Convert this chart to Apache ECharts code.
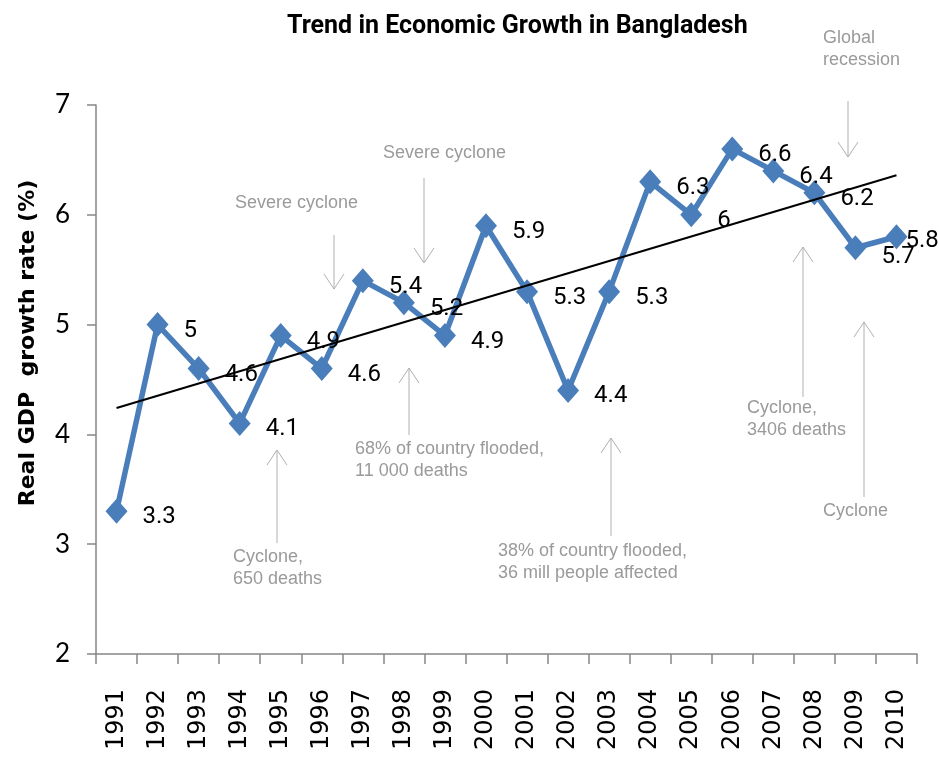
<!DOCTYPE html>
<html>
<head>
<meta charset="utf-8">
<script src="https://cdn.jsdelivr.net/npm/echarts@6/dist/echarts.min.js"></script>
<style>
html,body{margin:0;padding:0;background:#fff;}
#chart{width:939px;height:762px;}
</style>
</head>
<body>
<div id="chart"></div>
<script>
// ---------- data ----------
const years = ['1991','1992','1993','1994','1995','1996','1997','1998','1999','2000',
               '2001','2002','2003','2004','2005','2006','2007','2008','2009','2010'];
const gdpGrowth = [3.3, 5, 4.6, 4.1, 4.9, 4.6, 5.4, 5.2, 4.9, 5.9,
                   5.3, 4.4, 5.3, 6.3, 6, 6.6, 6.4, 6.2, 5.7, 5.8];
const trendStart = 4.24;   // at 1991
const trendEnd = 6.36;     // at 2010
const yTicks = [2, 3, 4, 5, 6, 7];
const titleText = 'Trend in Economic Growth in Bangladesh';
const yAxisTitle = 'Real GDP  growth rate (%)';
const annotationTexts = [
  'Severe cyclone',
  'Severe cyclone',
  '68% of country flooded,\n11 000 deaths',
  'Cyclone,\n650 deaths',
  '38% of country flooded,\n36 mill people affected',
  'Global\nrecession',
  'Cyclone,\n3406 deaths',
  'Cyclone'
];

// ---------- layout (pixels) ----------
const annotationLayout = [
  {tx: 235, ty: 203, x1: 334, y1: 235, x2: 334, y2: 289},
  {tx: 383, ty: 153, x1: 424, y1: 178, x2: 424, y2: 263},
  {tx: 355, ty: 449, x1: 409, y1: 435, x2: 409, y2: 368},
  {tx: 233, ty: 557, x1: 277, y1: 543, x2: 277, y2: 450},
  {tx: 498, ty: 551, x1: 611, y1: 536, x2: 611, y2: 438},
  {tx: 823, ty: 38,  x1: 848, y1: 101, x2: 848, y2: 157},
  {tx: 747, ty: 408, x1: 803, y1: 397, x2: 803, y2: 247},
  {tx: 823, ty: 511, x1: 864, y1: 497, x2: 864, y2: 322}
];
const labelShift = {19: [-17, 4], 18: [0, 9]};

const BLUE = '#4A7EBB';
const AXIS = '#868686';
const ANNO = '#9a9a9a';
const NUM_FONT = 'Roboto, "Liberation Sans", Arial, sans-serif';

const seriesData = gdpGrowth.map((v, i) => {
  if (labelShift[i]) {
    return {value: v, label: {offset: labelShift[i]}};
  }
  return v;
});
const trendData = years.map((y, i) => i === 0 ? trendStart : (i === years.length - 1 ? trendEnd : null));

const graphics = [];
annotationLayout.forEach((a, i) => {
  graphics.push({
    type: 'text', left: a.tx, top: a.ty - 11, silent: true,
    style: {text: annotationTexts[i], fill: ANNO, font: '18px "Liberation Sans", Arial, sans-serif', lineHeight: 22}
  });
  const dir = a.y2 > a.y1 ? -1 : 1;
  graphics.push({
    type: 'line', silent: true,
    shape: {x1: a.x1, y1: a.y1, x2: a.x2, y2: a.y2},
    style: {stroke: '#b0b0b0', lineWidth: 1}
  });
  graphics.push({
    type: 'polyline', silent: true,
    shape: {points: [[a.x2 - 10, a.y2 + dir * 15], [a.x2, a.y2], [a.x2 + 10, a.y2 + dir * 15]]},
    style: {stroke: '#b0b0b0', lineWidth: 1, fill: null}
  });
});
graphics.push({
  type: 'text', x: 28, y: 343, rotation: Math.PI / 2, silent: true,
  style: {text: yAxisTitle, fill: '#000', font: 'bold 22px "DejaVu Sans", sans-serif', align: 'center', verticalAlign: 'middle'}
});

const chart = echarts.init(document.getElementById('chart'), null, {renderer: 'canvas'});
chart.setOption({
  animation: false,
  backgroundColor: '#fff',
  title: {
    text: titleText, left: 282, top: 9,
    textStyle: {fontFamily: NUM_FONT, fontWeight: 'bold', fontSize: 25, color: '#000'}
  },
  grid: {left: 96, right: 22, top: 105, bottom: 108, containLabel: false, outerBoundsMode: 'none'},
  xAxis: {
    type: 'category', data: years, boundaryGap: true,
    axisLine: {show: true, lineStyle: {color: AXIS, width: 1.5}},
    axisTick: {show: true, length: 10, inside: false, alignWithLabel: false, lineStyle: {color: AXIS, width: 1.5}},
    axisLabel: {rotate: 90, margin: 35, interval: 0, color: '#000', fontFamily: '"DejaVu Sans", Verdana, sans-serif', fontSize: 24},
    splitLine: {show: false}
  },
  yAxis: {
    type: 'value', min: yTicks[0], max: yTicks[yTicks.length - 1], interval: 1,
    axisLine: {show: true, lineStyle: {color: AXIS, width: 1.5}},
    axisTick: {show: true, length: 9, lineStyle: {color: AXIS, width: 1.5}},
    axisLabel: {margin: 26, color: '#000', fontFamily: 'Lato, sans-serif', fontSize: 26},
    splitLine: {show: false}
  },
  series: [
    {
      name: 'GDP growth', type: 'line', data: seriesData, z: 3,
      symbol: 'diamond', symbolSize: [22, 25],
      lineStyle: {color: BLUE, width: 5.5},
      itemStyle: {color: BLUE},
      label: {
        show: true, position: 'right', distance: 15, offset: [0, 6],
        color: '#000', fontFamily: NUM_FONT, fontSize: 24
      }
    },
    {
      name: 'Trend', type: 'line', data: trendData, connectNulls: true, z: 4,
      symbol: 'none', lineStyle: {color: '#000', width: 2}, silent: true
    }
  ],
  graphic: graphics
});
</script>
</body>
</html>
